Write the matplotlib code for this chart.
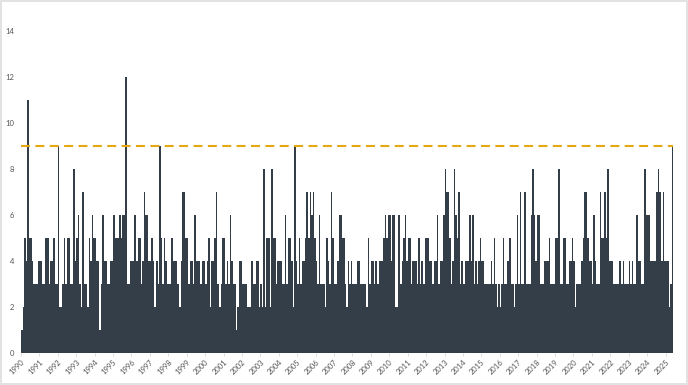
import matplotlib
matplotlib.use('Agg')
import matplotlib.pyplot as plt
import numpy as np
import pandas as pd

# monthly counts, Jan 1990 .. May 2025
counts_1990s = [
    1, 2, 5, 4, 11, 5, 5, 4, 3, 3, 3, 4,   # 1990
    4, 4, 3, 3, 5, 5, 3, 4, 4, 5, 3, 3,    # 1991
    9, 2, 2, 3, 5, 3, 5, 5, 3, 3, 8, 4,    # 1992
    5, 6, 3, 2, 7, 3, 3, 2, 5, 4, 6, 5,    # 1993
    5, 4, 4, 1, 3, 6, 4, 4, 3, 3, 4, 4,    # 1994
    6, 5, 5, 5, 6, 5, 6, 6, 12, 3, 3, 4,   # 1995
    4, 4, 6, 4, 5, 5, 3, 4, 7, 6, 6, 4,    # 1996
    4, 5, 4, 2, 4, 3, 9, 5, 3, 5, 4, 3,    # 1997
    3, 3, 5, 4, 4, 4, 3, 2, 4, 7, 7, 5,    # 1998
    5, 3, 4, 4, 3, 6, 4, 4, 4, 3, 4, 4,    # 1999
]
counts_2000s = [
    3, 4, 5, 2, 4, 4, 5, 7, 3, 2, 3, 5,    # 2000
    5, 3, 4, 3, 6, 4, 3, 3, 1, 2, 4, 4,    # 2001
    3, 3, 3, 2, 2, 2, 4, 3, 3, 4, 4, 2,    # 2002
    3, 2, 8, 2, 5, 5, 2, 8, 5, 5, 3, 4,    # 2003
    4, 4, 3, 3, 6, 3, 5, 5, 4, 2, 9, 4,    # 2004
    3, 5, 3, 4, 4, 5, 7, 5, 7, 6, 7, 5,    # 2005
    4, 3, 6, 3, 3, 3, 2, 5, 4, 3, 7, 5,    # 2006
    3, 3, 4, 6, 6, 5, 5, 3, 2, 4, 3, 4,    # 2007
    3, 3, 3, 4, 4, 3, 3, 3, 3, 2, 5, 3,    # 2008
    4, 4, 3, 4, 3, 4, 4, 4, 5, 6, 5, 6,    # 2009
]
counts_2010s = [
    6, 4, 6, 6, 2, 2, 6, 3, 4, 5, 6, 4,    # 2010
    5, 5, 3, 4, 4, 4, 3, 5, 3, 4, 3, 5,    # 2011
    5, 5, 4, 4, 3, 4, 4, 6, 3, 4, 4, 6,    # 2012
    8, 7, 7, 5, 3, 4, 8, 6, 5, 7, 3, 4,    # 2013
    3, 4, 4, 4, 6, 4, 6, 3, 4, 3, 4, 5,    # 2014
    4, 4, 3, 3, 3, 3, 4, 3, 5, 3, 2, 3,    # 2015
    2, 3, 5, 3, 3, 4, 5, 3, 3, 2, 3, 6,    # 2016
    3, 7, 3, 3, 7, 3, 3, 3, 6, 8, 6, 4,    # 2017
    6, 6, 3, 3, 3, 4, 4, 4, 5, 3, 3, 3,    # 2018
    5, 5, 8, 3, 3, 5, 5, 3, 3, 4, 4, 5,    # 2019
]
counts_2020s = [
    4, 2, 3, 3, 3, 4, 5, 7, 7, 5, 4, 4,    # 2020
    3, 6, 4, 3, 3, 7, 5, 5, 7, 5, 8, 4,    # 2021
    4, 4, 3, 3, 3, 3, 4, 3, 4, 3, 3, 3,    # 2022
    4, 3, 4, 3, 3, 6, 4, 4, 3, 3, 8, 6,    # 2023
    6, 6, 4, 4, 4, 4, 7, 8, 7, 4, 7, 4,    # 2024
    4, 4, 2, 3, 9,                         # 2025
]
threshold = 9
year_ticks = list(range(1990, 2026))

counts = counts_1990s + counts_2000s + counts_2010s + counts_2020s
months = pd.date_range('1990-01-01', periods=len(counts), freq='MS')
widths = months.days_in_month.values.astype(float)

plt.rcParams['font.family'] = ['Lato', 'DejaVu Sans']

fig = plt.figure(figsize=(6.88, 3.85), dpi=100)
fig.patch.set_facecolor('white')
fig.patch.set_edgecolor('#e2e2e2')
fig.patch.set_linewidth(1.5)
ax = fig.add_axes([0.0305, 0.083, 0.948, 0.896])

ax.bar(months, counts, width=widths, align='edge', color='#333e48', linewidth=0)
ax.axhline(threshold, color='#e3a812', linewidth=1.5, linestyle=(0, (4.3, 2.6)), zorder=3)

end = months[-1] + pd.Timedelta(days=float(widths[-1]))
ax.set_xlim(months[0], end)
ax.set_ylim(0, 15)

ax.set_yticks([0, 2, 4, 6, 8, 10, 12, 14])
ax.tick_params(axis='y', length=0, labelsize=5.5, labelcolor='#555555', pad=5)
tick_dates = pd.to_datetime([f'{y}-01-01' for y in year_ticks])
ax.set_xticks(tick_dates)
ax.set_xticklabels([str(y) for y in year_ticks], rotation=45, ha='right',
                   rotation_mode='anchor')
ax.tick_params(axis='x', length=2, width=0.5, color='#cccccc', labelsize=5.5,
               labelcolor='#555555', pad=2)

for s in ax.spines.values():
    s.set_visible(False)

fig.savefig('out.png', dpi=100)
